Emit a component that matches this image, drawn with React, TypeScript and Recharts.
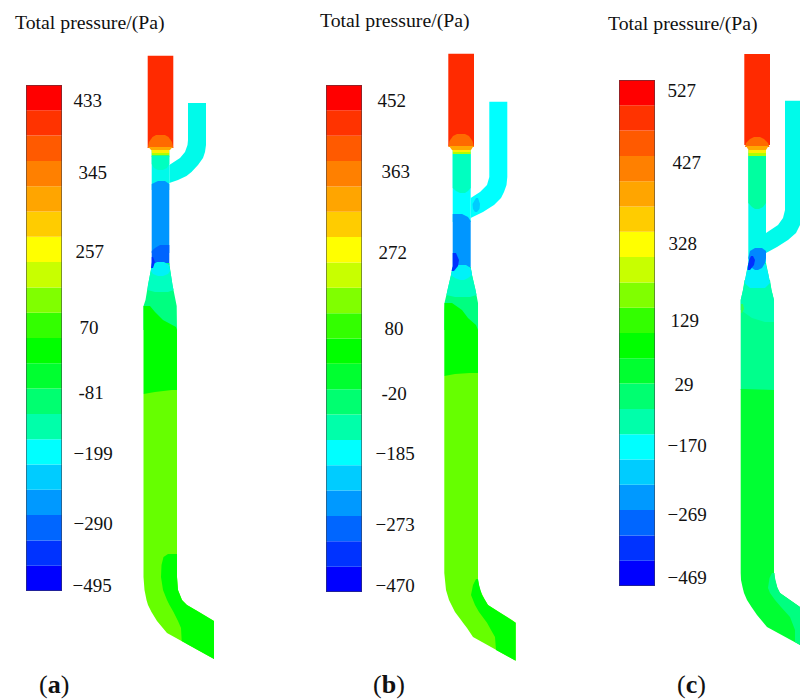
import React from "react";
import { BarChart, Bar, XAxis, YAxis, ComposedChart, Area } from "recharts";

type Row = [number, number, number];
type Region = [Row[], string];

const SERIF = "'Liberation Serif','Times New Roman',serif";

// colour scale, top band first
const bandColors = ["#ff0000","#ff3300","#ff5a00","#ff8000","#ffa500","#ffcc00","#ffff00","#c8ff00","#80ff00","#33ff00","#00ff00","#00ff30","#00ff70","#00ffaa","#00ffff","#00ccff","#0099ff","#0066ff","#0033ff","#0000ff"];

// colour bar labels
const aLabels = ["433","345","257","70","-81","\u2212199","\u2212290","\u2212495"];
const bLabels = ["452","363","272","80","-20","\u2212185","\u2212273","\u2212470"];
const cLabels = ["527","427","328","129","29","\u2212170","\u2212269","\u2212469"];
const aTicks = [19.4,16.56,13.4,10.4,7.83,5.45,2.65,0.2];
const bTicks = [19.4,16.57,13.41,10.41,7.85,5.48,2.68,0.24];
const cTicks = [19.57,16.72,13.52,10.51,7.98,5.57,2.81,0.32];

// contour regions, each row is [y, left x, right x]
const aInlet: Row[] = [[55.7,147.7,173.3],[148,147.7,173.3]];
const aDome: Row[] = [[135,156,165],[137,152.5,168.5],[142,149,172],[148,147.7,173.3]];
const aAmber: Row[] = [[147,148.5,172.5],[150,151,170]];
const aYellow: Row[] = [[150,151.5,169.3],[153,151.7,169.3]];
const aChart: Row[] = [[153,151.7,169.3],[155,151.7,169.3]];
const aMint: Row[] = [[155,151.7,169.3],[157,151.7,169.3]];
const aPipe: Row[] = [[150,151.7,169.3],[190,151.7,169.3]];
const aTeal: Row[] = [[156,151.7,169.3],[164,151.7,169.3],[168,154,167],[170,158,163]];
const aBranch: Row[] = [[103,188,206],[140,188,206],[145,187.5,206],[152,185,205],[158,180,203],[165,169.3,198],[172,169.3,191.5],[176,169.3,186.5],[180,169.3,178],[183,169.3,169.3]];
const aBlue: Row[] = [[181,158,165],[184,151.7,169.3],[253,151.7,169.3]];
const aDark: Row[] = [[245,160,169.3],[248,155,169.3],[251,151.7,169.3],[265,151.7,169.3]];
const aDarkest: Row[] = [[257,151.7,153],[262,151.7,155],[268,151,153]];
const aTaper: Row[] = [[263,152,169.3],[272,150.5,170.5],[285,148,172.5],[300,145.5,175.5],[306,143.5,176.7],[330,143.5,177]];
const aTaperTeal: Row[] = [[265,152,169],[272,150.5,170.5],[285,148,172.5],[290,147.5,173.5],[292,155,168]];
const aTaperCyan: Row[] = [[262,157,164],[265,152.5,169],[271,151,170],[274,153,168],[276,158,163]];
const aGreen: Row[] = [[306,143.5,150],[312,143.5,155],[320,143.5,163],[327,143.5,176],[330,143.5,177],[394,143.5,177]];
const aLower: Row[] = [[390,172,177],[392,155,177],[394,143.5,177],[577,143.5,177],[590,144.5,178],[600,146.5,182],[605,148,187],[612,151.5,199],[621,157,214],[633,167,214],[645,188.7,214],[659,214,214]];
const aOutlet: Row[] = [[554,168,177],[557,163.5,177],[565,161.5,177],[577,161,177],[590,163,178],[600,167,182],[605,169.5,187],[612,173.5,199],[621,178,214],[628,181,214],[641,181.7,214],[645,188.7,214],[659,214,214]];

const bInlet: Row[] = [[53.7,448.3,474],[146,448.3,474]];
const bDome: Row[] = [[134,457,465],[136,453,469],[141,449.5,472.5],[147,448.3,474]];
const bAmber: Row[] = [[146,449,473.5],[150,452,471]];
const bYellow: Row[] = [[150,452.5,470.7],[152,452.7,470.7]];
const bChart: Row[] = [[152,452.7,470.7],[154,452.7,470.7]];
const bPipe: Row[] = [[150,452.7,470.7],[222,452.7,470.7]];
const bTeal: Row[] = [[154,452.7,470.7],[188,452.7,470.7],[191,456,468],[193,460,465]];
const bBranch: Row[] = [[101.7,489.3,507.3],[177,489.3,507.3],[185,487,506.5],[192,480,504],[198,470.7,501],[205,470.7,494],[212,470.7,483],[218,470.7,470.7]];
const bBlob: Row[] = [[198,476,478],[204,472.5,480],[209,473,479.5],[212,475,477]];
const bBlue: Row[] = [[214,452.7,462],[217,452.7,468],[221,452.7,470.7],[270,452.7,470.7]];
const bDark: Row[] = [[253,452.7,456],[260,452.7,459],[266,452.7,458],[271,451.5,454]];
const bTaper: Row[] = [[267,452.7,470.7],[275,451,472],[290,447.5,475.5],[303,444.5,478],[330,444.3,478]];
const bTaperTeal: Row[] = [[268,452.5,470.7],[275,451,472],[290,447.5,475.5],[295,446.5,476.5],[297,455,470]];
const bTaperCyan: Row[] = [[265,458,466],[268,452.7,470.7],[275,451,472],[278,455,468],[280,460,464]];
const bGreen: Row[] = [[303,444.5,452],[310,444.3,462],[318,444.3,468],[325,444.3,476],[330,444.3,478],[376,444.3,478]];
const bLower: Row[] = [[373,470,478],[374,455,478],[376,444.3,478],[573,444.3,478],[580,445,478],[590,446,480],[600,449,485],[605,451.5,488],[612,455,499],[620,461,512],[622.7,463,515.7],[628,467,515.7],[637,473,515.7],[648,492.8,515.7],[660.7,515.7,515.7]];
const bOutlet: Row[] = [[579,476,478],[585,473,479],[595,471,482],[605,475,488],[612,479,499],[622.7,487,515.7],[630,491,515.7],[637,495,515.7],[650,496,515.7],[660.7,515.7,515.7]];

const cInlet: Row[] = [[54,744.3,770],[145,744.3,770]];
const cDome: Row[] = [[137,754,760],[139,750,764],[143,746,768],[147,745,769.5]];
const cAmber: Row[] = [[146,746,768.5],[150,748.5,766]];
const cYellow: Row[] = [[150,748.3,766],[153,748.3,766]];
const cChart: Row[] = [[153,748.3,766],[156,748.3,766]];
const cPipe: Row[] = [[150,748.3,766],[270,748.3,766]];
const cTeal: Row[] = [[156,748.3,766],[203,748.3,766],[207,752,763],[209,755,759]];
const cBranch: Row[] = [[100.7,785,800],[210,785,800],[218,783,800],[225,778,800],[233,766,796],[240,766,788],[247,766,777],[253,766,766]];
const cBlue: Row[] = [[248,755,762],[251,750,766],[258,748.3,766],[263,750,765],[268,752,762],[270,755,758]];
const cDark: Row[] = [[256,751,753],[260,749,755],[265,748,754],[270,747.5,750]];
const cTaper: Row[] = [[263,748.3,766],[275,746,768.5],[290,743,771.5],[300,740.7,774],[390,740.7,774],[392,752,762]];
const cTaperTeal: Row[] = [[280,744.5,770],[290,743,771.5],[300,740.7,774],[310,740.7,774],[318,752,774],[322,765,774]];
const cTaperCyan: Row[] = [[262,752,764],[265,748,766],[275,746,768.5],[283,744.5,770],[288,750,765]];
const cSpot: Row[] = [[304,741,743],[309,741,744],[313,741,742]];
const cLower: Row[] = [[389,740.7,745],[390,740.7,774],[573,740.7,774],[580,741,775],[587,742.5,777],[593,744,780],[600,747,790],[607,751.5,800],[615,757,800],[621,762,800],[627,767,800],[636,783.5,800],[645,800,800]];
const cOutlet: Row[] = [[573,772,774.5],[578,769.5,775],[588,768,777.5],[593,770,780],[600,775,790],[607,781,800],[617,790,800],[630,795,800],[642,795,800],[645,800,800]];

const RED = "#ff2a00", ORANGE = "#ff6a00", AMBER = "#ffa800", YELLOW = "#ffee00", CHART = "#b0ff00", MINT = "#30ff70";
const TEAL = "#00ffc0", CYAN = "#00faea", AQUA = "#00ffff", BLUE = "#0096ff", DARK = "#0064ff", DARKEST = "#0030ff";
const GREEN = "#00ff00", LIME = "#66ff00", SPRING = "#00ff80", EMERALD = "#00ff33", SKY = "#00ccff", PALE = "#00f2f8";

const regions: Region[] = [
  [aPipe, CYAN],[aBranch, CYAN],[aInlet, RED],[aDome, ORANGE],[aAmber, AMBER],[aYellow, YELLOW],[aChart, CHART],[aMint, MINT],[aTeal, TEAL],
  [aBlue, BLUE],[aDark, DARK],[aTaper, SPRING],[aTaperTeal, TEAL],[aTaperCyan, PALE],[aDarkest, DARKEST],[aGreen, GREEN],[aLower, LIME],[aOutlet, GREEN],
  [bPipe, AQUA],[bBranch, AQUA],[bInlet, RED],[bDome, ORANGE],[bAmber, AMBER],[bYellow, YELLOW],[bChart, CHART],[bTeal, TEAL],[bBlob, SKY],
  [bBlue, BLUE],[bTaper, SPRING],[bTaperTeal, TEAL],[bTaperCyan, PALE],[bDark, DARKEST],[bGreen, GREEN],[bLower, LIME],[bOutlet, GREEN],
  [cPipe, CYAN],[cBranch, CYAN],[cInlet, RED],[cDome, ORANGE],[cAmber, AMBER],[cYellow, YELLOW],[cChart, CHART],[cTeal, "#00ffa0"],
  [cTaper, "#00ff8c"],[cTaperTeal, "#00ffb0"],[cTaperCyan, PALE],[cBlue, "#0088ff"],[cDark, DARKEST],[cSpot, "#33ff50"],[cLower, EMERALD],[cOutlet, SPRING],
];

const Abs: React.FC<{ left: number; top: number; children: React.ReactNode; style?: React.CSSProperties }> = ({ left, top, children, style }) => (
  <div style={{ position: "absolute", left, top, whiteSpace: "nowrap", fontFamily: SERIF, color: "#111", lineHeight: 1, ...style }}>{children}</div>
);

const bandRow: Record<string, number | string> = { name: "scale" };
bandColors.forEach((_, i) => { bandRow["b" + i] = 1; });

function ColorBar({ left, top, height, labels, ticks, labelLeft }: { left: number; top: number; height: number; labels: string[]; ticks: number[]; labelLeft: number[] }) {
  const barWidth = 36;
  const w = 120;
  const pad = 20;
  const order = bandColors.map((c, i) => ({ c, i })).reverse();
  return (
    <div style={{ position: "absolute", left, top: top - pad }}>
      <BarChart width={w} height={height + 2 * pad} data={[bandRow]} margin={{ top: pad, right: 0, bottom: pad, left: 0 }} barCategoryGap={0}>
        <XAxis dataKey="name" hide />
        <YAxis
          orientation="right"
          type="number"
          domain={[0, 20]}
          width={w - barWidth}
          ticks={ticks}
          interval={0}
          axisLine={false}
          tickLine={false}
          tick={(p: any) => {
            const idx = ticks.indexOf(p.payload.value);
            return (
              <text x={labelLeft[idx] - left} y={p.y} dy={6.5} fontFamily={SERIF} fontSize={19} fill="#111">
                {labels[idx]}
              </text>
            );
          }}
        />
        {order.map(({ c, i }) => (
          <Bar key={i} dataKey={"b" + i} stackId="s" fill={c} isAnimationActive={false} />
        ))}
      </BarChart>
      <div style={{ position: "absolute", left: 0, top: pad, width: barWidth, height, boxSizing: "border-box", border: "1px solid rgba(60,60,70,0.55)" }} />
    </div>
  );
}

export default function App() {
  return (
    <div style={{ position: "absolute", left: 0, top: 0, width: 800, height: 700, overflow: "hidden", background: "#fff" }}>
      <Abs left={15} top={13} style={{ fontSize: 19.8 }}>Total pressure/(Pa)</Abs>
      <Abs left={320} top={11} style={{ fontSize: 19.8 }}>Total pressure/(Pa)</Abs>
      <Abs left={608} top={14} style={{ fontSize: 19.8 }}>Total pressure/(Pa)</Abs>

      <ColorBar left={25.5} top={85} height={506} labels={aLabels} ticks={aTicks} labelLeft={[73, 78, 75, 79, 78, 73, 73, 72]} />
      <ColorBar left={325.5} top={85} height={507} labels={bLabels} ticks={bTicks} labelLeft={[377, 381, 378, 384, 381, 375, 375, 375]} />
      <ColorBar left={618.5} top={80} height={506} labels={cLabels} ticks={cTicks} labelLeft={[667, 672, 668, 670, 674, 667, 667, 667]} />

      <div style={{ position: "absolute", left: 0, top: 0, filter: "blur(0.6px)" }}>
        <ComposedChart width={800} height={700} layout="vertical" margin={{ top: 0, right: 0, bottom: 0, left: 0 }}>
          <XAxis type="number" domain={[0, 800]} hide allowDataOverflow />
          <YAxis type="number" dataKey="y" domain={[0, 700]} hide allowDataOverflow />
          {regions.map(([rows, color], i) => (
            <Area
              key={i}
              data={rows.map(([y, lo, hi]) => ({ y, r: [lo, hi] }))}
              dataKey="r"
              type="linear"
              fill={color}
              fillOpacity={1}
              stroke="none"
              dot={false}
              activeDot={false}
              isAnimationActive={false}
            />
          ))}
        </ComposedChart>
      </div>

      <Abs left={39} top={672} style={{ fontSize: 26 }}>(<b>a</b>)</Abs>
      <Abs left={373} top={672} style={{ fontSize: 26 }}>(<b>b</b>)</Abs>
      <Abs left={677} top={672} style={{ fontSize: 26 }}>(<b>c</b>)</Abs>
    </div>
  );
}
